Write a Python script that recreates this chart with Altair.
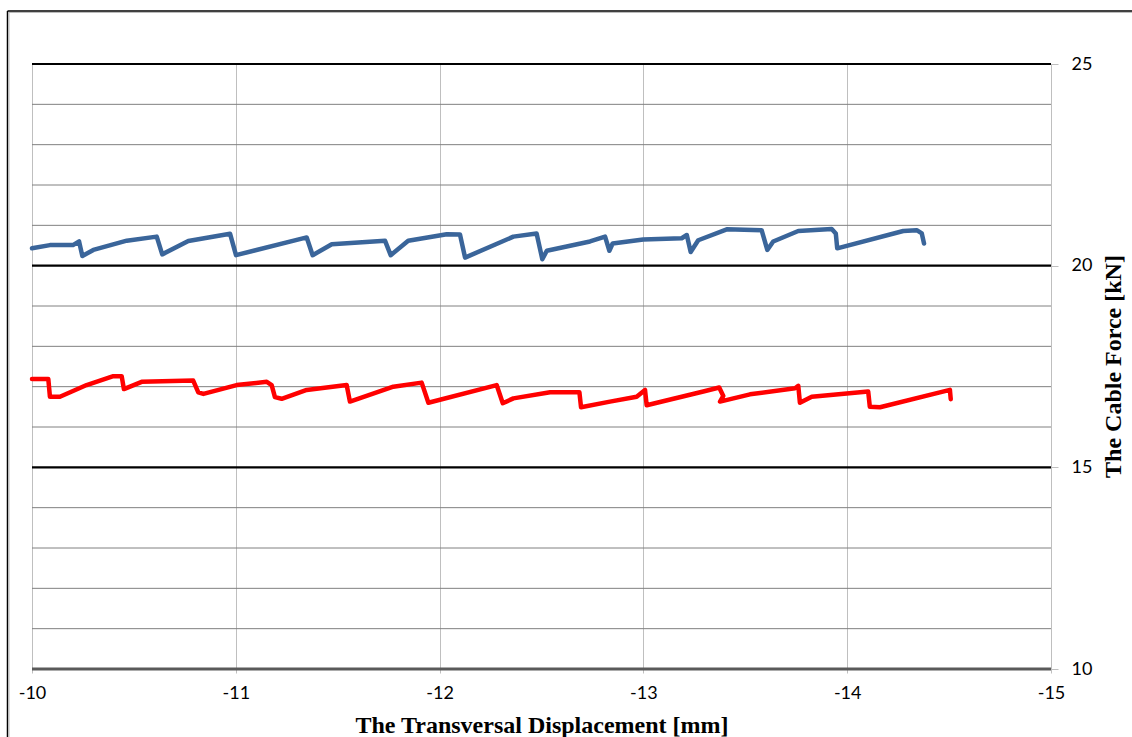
import altair as alt
import pandas as pd

# Blue series (upper)
blue_x = [-10.000, -10.088, -10.201, -10.231, -10.247, -10.301, -10.465, -10.612, -10.639,
          -10.767, -10.972, -11.001, -11.348, -11.377, -11.471, -11.732, -11.760, -11.846,
          -12.035, -12.100, -12.125, -12.362, -12.476, -12.504, -12.526, -12.738, -12.812,
          -12.833, -12.849, -12.999, -13.188, -13.213, -13.232, -13.269, -13.409, -13.580,
          -13.608, -13.637, -13.760, -13.924, -13.944, -13.951, -14.275, -14.341, -14.366,
          -14.377]
blue_y = [20.43, 20.51, 20.51, 20.60, 20.24, 20.39, 20.62, 20.72, 20.28,
          20.61, 20.79, 20.26, 20.70, 20.26, 20.53, 20.62, 20.26, 20.62,
          20.78, 20.77, 20.20, 20.72, 20.80, 20.16, 20.37, 20.60, 20.72,
          20.37, 20.55, 20.65, 20.68, 20.76, 20.34, 20.63, 20.90, 20.88,
          20.39, 20.60, 20.86, 20.91, 20.80, 20.43, 20.86, 20.88, 20.80,
          20.55]

# Red series (lower)
red_x = [-10.000, -10.080, -10.088, -10.137, -10.268, -10.399, -10.440, -10.451, -10.538,
         -10.791, -10.816, -10.841, -11.004, -11.152, -11.176, -11.192, -11.225, -11.348,
         -11.544, -11.560, -11.773, -11.912, -11.945, -12.280, -12.310, -12.362, -12.542,
         -12.686, -12.694, -12.836, -12.967, -13.008, -13.016, -13.294, -13.372, -13.392,
         -13.376, -13.523, -13.744, -13.760, -13.768, -13.826, -14.103, -14.111, -14.161,
         -14.504, -14.508]
red_y = [17.19, 17.19, 16.75, 16.75, 17.04, 17.26, 17.26, 16.94, 17.12,
         17.15, 16.86, 16.82, 17.04, 17.12, 17.04, 16.74, 16.70, 16.92,
         17.04, 16.63, 17.00, 17.10, 16.60, 17.04, 16.59, 16.71, 16.86,
         16.86, 16.49, 16.63, 16.75, 16.92, 16.54, 16.88, 16.98, 16.77,
         16.63, 16.81, 16.96, 17.02, 16.60, 16.75, 16.88, 16.50, 16.49,
         16.92, 16.69]

x_ticks = [-10, -11, -12, -13, -14, -15]
y_ticks = [10, 15, 20, 25]
minor_y = [11, 12, 13, 14, 16, 17, 18, 19, 21, 22, 23, 24]
major_y = [15, 20, 25]

W, H = 1019, 605

df = pd.concat([
    pd.DataFrame({"x": blue_x, "y": blue_y, "s": "blue", "o": range(len(blue_x))}),
    pd.DataFrame({"x": red_x, "y": red_y, "s": "red", "o": range(len(red_x))}),
])

xscale = alt.Scale(domain=[-15, -10], reverse=True, nice=False, zero=False)
yscale = alt.Scale(domain=[10, 25], nice=False, zero=False)

x_enc = alt.X("x:Q", scale=xscale, axis=alt.Axis(
    values=x_ticks, grid=True, gridColor="#BFBFBF", gridWidth=1,
    domain=False, tickColor="#BFBFBF", tickSize=4, labelPadding=11, labelFlush=False,
    labelExpr="datum.value < 0 ? '-' + abs(datum.value) : '' + datum.value",
    labelFont="Lato", labelFontSize=18, labelColor="#000000",
    title="The Transversal Displacement  [mm]", titleFont="Liberation Serif",
    titleFontSize=24, titleFontWeight="bold", titleColor="#000000", titlePadding=11))
y_enc = alt.Y("y:Q", scale=yscale, axis=alt.Axis(
    orient="right", values=y_ticks, grid=False, domainColor="#BFBFBF",
    tickColor="#BFBFBF", tickSize=7, labelPadding=13, labelFlush=False,
    labelFont="Lato", labelFontSize=18, labelColor="#000000",
    title="The Cable Force [kN]", titleFont="Liberation Serif", titleFontSize=24,
    titleFontWeight="bold", titleColor="#000000", titleAngle=270,
    titleX=62, titleY=302, titleAlign="center", titleBaseline="middle"))

minor = alt.Chart(pd.DataFrame({"v": minor_y})).mark_rule(color="#808080", strokeWidth=1).encode(
    y=alt.Y("v:Q", scale=yscale))
major = alt.Chart(pd.DataFrame({"v": major_y})).mark_rule(color="#000000", strokeWidth=2.2).encode(
    y=alt.Y("v:Q", scale=yscale))
bottom = alt.Chart(pd.DataFrame({"v": [10]})).mark_rule(color="#5A5A5A", strokeWidth=3).encode(
    y=alt.Y("v:Q", scale=yscale))

lines = alt.Chart(df).mark_line(strokeWidth=4.5, strokeJoin="round", strokeCap="round").encode(
    x=x_enc, y=y_enc, order="o:Q",
    color=alt.Color("s:N", scale=alt.Scale(domain=["blue", "red"], range=["#3A659A", "#FF0000"]),
                    legend=None),
    detail="s:N")

one = pd.DataFrame({"a": [0]})
frame_left = alt.Chart(one).mark_rule(color="#000000", strokeWidth=1.5).encode(
    x=alt.value(-24.5), y=alt.value(-53), y2=alt.value(720))
frame_left_in = alt.Chart(one).mark_rule(color="#BBBBBB", strokeWidth=1).encode(
    x=alt.value(-23), y=alt.value(-52), y2=alt.value(720))
frame_top = alt.Chart(one).mark_rule(color="#000000", strokeWidth=1.5).encode(
    y=alt.value(-53), x=alt.value(-24.5), x2=alt.value(1110))
frame_top_in = alt.Chart(one).mark_rule(color="#BBBBBB", strokeWidth=1).encode(
    y=alt.value(-51.5), x=alt.value(-23), x2=alt.value(1110))

chart = alt.layer(minor, major, bottom, lines, frame_left, frame_left_in, frame_top, frame_top_in).properties(
    width=W, height=H,
    autosize=alt.AutoSizeParams(type="none"),
    padding={"left": 32, "top": 64, "right": 1132 - 32 - W, "bottom": 737 - 64 - H},
    background="#FFFFFF",
).configure_view(stroke=None)

chart.save("out.html", embed_options={"renderer": "svg", "actions": False})
